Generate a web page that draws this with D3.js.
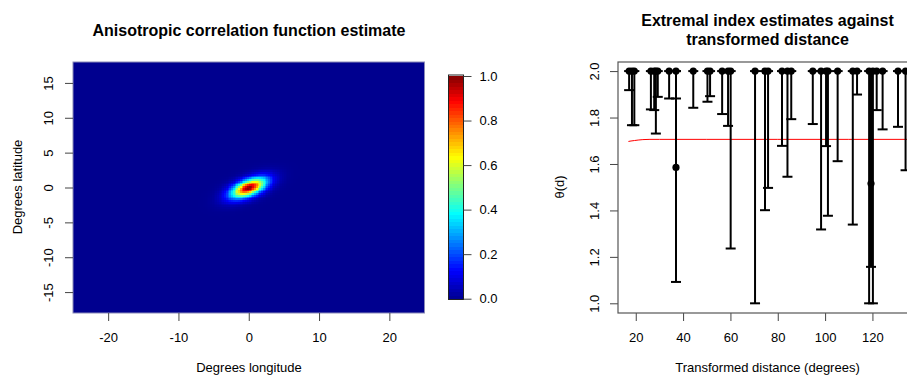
<!DOCTYPE html>
<html>
<head>
<meta charset="utf-8">
<script src="https://cdn.jsdelivr.net/npm/d3@7"></script>
<style>
  body { margin: 0; background: #fff; }
  text { font-family: "Liberation Sans", Arial, Helvetica, sans-serif; fill: #000; }
</style>
</head>
<body>
<svg id="chart" width="907" height="376"></svg>
<script>
// ---- left panel: correlation function estimate ----
const lonTicks = [-20, -10, 0, 10, 20];
const latTicks = [-15, -10, -5, 0, 5, 10, 15];
const colourTicks = [0, 0.2, 0.4, 0.6, 0.8, 1.0];
// fitted anisotropy
const corrMajor = 2.5;   // degrees along main axis
const corrMinor = 1.05;  // degrees across it
const corrAngle = 22;    // degrees anticlockwise from east
const corrPower = 1.8;

// ---- right panel: extremal index estimates ----
const distTicks = [20, 40, 60, 80, 100, 120];
const thetaTicks = [1.0, 1.2, 1.4, 1.6, 1.8, 2.0];
const distance   = [17.2, 18.4, 19.4, 26.4, 27.8, 28.5, 29.3, 34.1, 37.0, 37.0, 44.3, 50.3, 51.4, 56.5, 59.0, 60.1, 70.4, 74.6,
                    75.9, 81.8, 84.1, 85.7, 94.8, 98.3, 100.4, 101.2, 105.3, 111.7, 113.5, 118.6, 119.4, 120.2, 121.8, 124.3, 130.8, 134.0];
const thetaHat   = [2.0, 2.0, 2.0, 2.0, 2.0, 2.0, 2.0, 2.0, 2.0, 1.585, 2.0, 2.0, 2.0, 2.0, 2.0, 2.0, 2.0, 2.0,
                    2.0, 2.0, 2.0, 2.0, 2.0, 2.0, 2.0, 2.0, 2.0, 2.0, 2.0, 2.0, 1.516, 2.0, 2.0, 2.0, 2.0, 2.0];
const thetaLower = [1.918, 1.767, 1.767, 1.835, 1.832, 1.731, 1.889, 1.882, 1.882, 1.092, 1.842, 1.868, 1.892, 1.815, 1.764, 1.236, 1.0, 1.401,
                    1.497, 1.678, 1.545, 1.793, 1.772, 1.318, 1.677, 1.377, 1.612, 1.339, 1.899, 1.0, 1.157, 1.0, 1.832, 1.749, 1.760, 1.573];
const thetaUpper = [2.0, 2.0, 2.0, 2.0, 2.0, 2.0, 2.0, 2.0, 2.0, 2.0, 2.0, 2.0, 2.0, 2.0, 2.0, 2.0, 2.0, 2.0,
                    2.0, 2.0, 2.0, 2.0, 2.0, 2.0, 2.0, 2.0, 2.0, 2.0, 2.0, 2.0, 2.0, 2.0, 2.0, 2.0, 2.0, 2.0];
const fitDistance = [16.9, 18.0, 19.5, 21.0, 23.0, 26.0, 30.0, 50.0, 80.0, 110.0, 140.0];
const fitTheta    = [1.697, 1.699, 1.701, 1.703, 1.705, 1.706, 1.706, 1.706, 1.706, 1.706, 1.706];

const svg = d3.select("#chart");
const plain = d => String(d);            // R uses an ascii hyphen for negatives
const oneDp = d => d.toFixed(1);

// tim.colors style jet palette
const jet = d3.scaleLinear()
  .domain([0, 0.127, 0.381, 0.635, 0.889, 1])
  .range(["#00008F", "#0000FF", "#00FFFF", "#FFFF00", "#FF0000", "#800000"])
  .interpolate(d3.interpolateRgb)
  .clamp(true);

function corr(lon, lat) {
  const a = corrAngle * Math.PI / 180;
  const u = (lon * Math.cos(a) + lat * Math.sin(a)) / corrMajor;
  const v = (-lon * Math.sin(a) + lat * Math.cos(a)) / corrMinor;
  return Math.exp(-Math.pow(Math.sqrt(u * u + v * v), corrPower));
}

function styleTicks(sel) {
  sel.select(".domain").remove();
  sel.selectAll("line").attr("stroke", "#444");
  sel.selectAll("text").style("font-size", "13px")
    .style("font-family", "'Liberation Sans', Arial, sans-serif");
}

// ===== left panel =====
const lx = d3.scaleLinear().domain([-25, 25]).range([73, 424.5]);
const ly = d3.scaleLinear().domain([-18, 18]).range([313, 62]);

const step = 0.25;
const cells = [];
d3.range(-25, 25, step).forEach(lon => {
  d3.range(-18, 18, step).forEach(lat => {
    cells.push({ lon: lon, lat: lat, rho: corr(lon + step / 2, lat + step / 2) });
  });
});

const heat = svg.append("g").attr("shape-rendering", "crispEdges");
heat.selectAll("rect")
  .data(cells)
  .enter()
  .append("rect")
  .attr("x", d => lx(d.lon))
  .attr("y", d => ly(d.lat + step))
  .attr("width", lx(step) - lx(0) + 0.4)
  .attr("height", ly(0) - ly(step) + 0.4)
  .attr("fill", d => jet(d.rho));

svg.append("rect")
  .attr("x", 73).attr("y", 62)
  .attr("width", 424.5 - 73).attr("height", 313 - 62)
  .attr("fill", "none").attr("stroke", "#8a8ab8").attr("stroke-width", 1);

// x axis
const lxAxis = svg.append("g")
  .attr("transform", "translate(0,313)")
  .call(d3.axisBottom(lx).tickValues(lonTicks).tickSize(8).tickFormat(plain));
styleTicks(lxAxis);
lxAxis.selectAll("text").attr("dy", null).attr("y", 29);

// y axis
const lyAxis = svg.append("g")
  .attr("transform", "translate(73,0)")
  .call(d3.axisLeft(ly).tickValues(latTicks).tickSize(8).tickFormat(plain));
styleTicks(lyAxis);
lyAxis.selectAll("text")
  .attr("x", null).attr("dy", null)
  .attr("transform", "translate(-20,0) rotate(-90)")
  .attr("text-anchor", "middle");

svg.append("text").attr("x", 249).attr("y", 36).attr("text-anchor", "middle")
  .style("font-size", "16px").style("font-weight", "bold")
  .text("Anisotropic correlation function estimate");
svg.append("text").attr("x", 249).attr("y", 372).attr("text-anchor", "middle")
  .style("font-size", "13px").text("Degrees longitude");
svg.append("text").attr("transform", "translate(22,187) rotate(-90)").attr("text-anchor", "middle")
  .style("font-size", "13px").text("Degrees latitude");

// colour bar
const cy = d3.scaleLinear().domain([0, 1]).range([298.7, 76]);
const levels = d3.range(0, 1, 1 / 64);
svg.append("g").attr("shape-rendering", "crispEdges")
  .selectAll("rect")
  .data(levels)
  .enter()
  .append("rect")
  .attr("x", 448.5)
  .attr("y", d => cy(d + 1 / 64) - 0.3)
  .attr("width", 15)
  .attr("height", cy(0) - cy(1 / 64) + 0.6)
  .attr("fill", d => jet(d + 0.5 / 64));
svg.append("rect")
  .attr("x", 448.5).attr("y", 75).attr("width", 15).attr("height", 224.5)
  .attr("fill", "none").attr("stroke", "#222").attr("stroke-width", 1);

const cAxis = svg.append("g")
  .attr("transform", "translate(463.5,0)")
  .call(d3.axisRight(cy).tickValues(colourTicks).tickSize(8).tickPadding(8).tickFormat(oneDp));
styleTicks(cAxis);

// ===== right panel =====
const rx = d3.scaleLinear().domain([12.5, 139]).range([618, 917.4]);
const ry = d3.scaleLinear().domain([0.96, 2.04]).range([312.6, 61.8]);

svg.append("clipPath").attr("id", "rclip")
  .append("rect").attr("x", 618).attr("y", 62).attr("width", 300).attr("height", 251);

const rxAxis = svg.append("g")
  .attr("transform", "translate(0,313)")
  .call(d3.axisBottom(rx).tickValues(distTicks).tickSize(8).tickFormat(plain));
styleTicks(rxAxis);
rxAxis.selectAll("text").attr("dy", null).attr("y", 29);

const ryAxis = svg.append("g")
  .attr("transform", "translate(618,0)")
  .call(d3.axisLeft(ry).tickValues(thetaTicks).tickSize(8).tickFormat(oneDp));
styleTicks(ryAxis);
ryAxis.selectAll("text")
  .attr("x", null).attr("dy", null)
  .attr("transform", "translate(-19,0) rotate(-90)")
  .attr("text-anchor", "middle");

const plot = svg.append("g").attr("clip-path", "url(#rclip)");

// fitted curve
plot.append("path")
  .datum(d3.zip(fitDistance, fitTheta))
  .attr("fill", "none")
  .attr("stroke", "#ff0000")
  .attr("stroke-width", 1)
  .attr("d", d3.line().x(d => rx(d[0])).y(d => ry(d[1])));

// intervals
const bars = distance.map((d, i) => ({ d: d, est: thetaHat[i], lo: thetaLower[i], hi: thetaUpper[i] }));
const capHalf = 5;
const g = plot.selectAll(".bar").data(bars).enter().append("g").attr("class", "bar");
g.append("line")
  .attr("x1", d => rx(d.d)).attr("x2", d => rx(d.d))
  .attr("y1", d => ry(d.lo)).attr("y2", d => ry(d.hi))
  .attr("stroke", "#000").attr("stroke-width", 2);
g.append("line")
  .attr("x1", d => rx(d.d) - capHalf).attr("x2", d => rx(d.d) + capHalf)
  .attr("y1", d => ry(d.lo)).attr("y2", d => ry(d.lo))
  .attr("stroke", "#000").attr("stroke-width", 2);
g.append("line")
  .attr("x1", d => rx(d.d) - capHalf).attr("x2", d => rx(d.d) + capHalf)
  .attr("y1", d => ry(d.hi)).attr("y2", d => ry(d.hi))
  .attr("stroke", "#000").attr("stroke-width", 2);
g.append("circle")
  .attr("cx", d => rx(d.d)).attr("cy", d => ry(d.est))
  .attr("r", 3.6).attr("fill", "#000");

// frame
svg.append("rect")
  .attr("x", 618).attr("y", 62).attr("width", 917.4 - 618).attr("height", 313 - 62)
  .attr("fill", "none").attr("stroke", "#555").attr("stroke-width", 1.2);

svg.append("text").attr("x", 767.5).attr("y", 26).attr("text-anchor", "middle")
  .style("font-size", "16px").style("font-weight", "bold")
  .text("Extremal index estimates against");
svg.append("text").attr("x", 767.5).attr("y", 45).attr("text-anchor", "middle")
  .style("font-size", "16px").style("font-weight", "bold")
  .text("transformed distance");
svg.append("text").attr("x", 767.5).attr("y", 372).attr("text-anchor", "middle")
  .style("font-size", "13px").text("Transformed distance (degrees)");
svg.append("text").attr("transform", "translate(564,187) rotate(-90)").attr("text-anchor", "middle")
  .style("font-size", "13px").text("θ(d)");
</script>
</body>
</html>
